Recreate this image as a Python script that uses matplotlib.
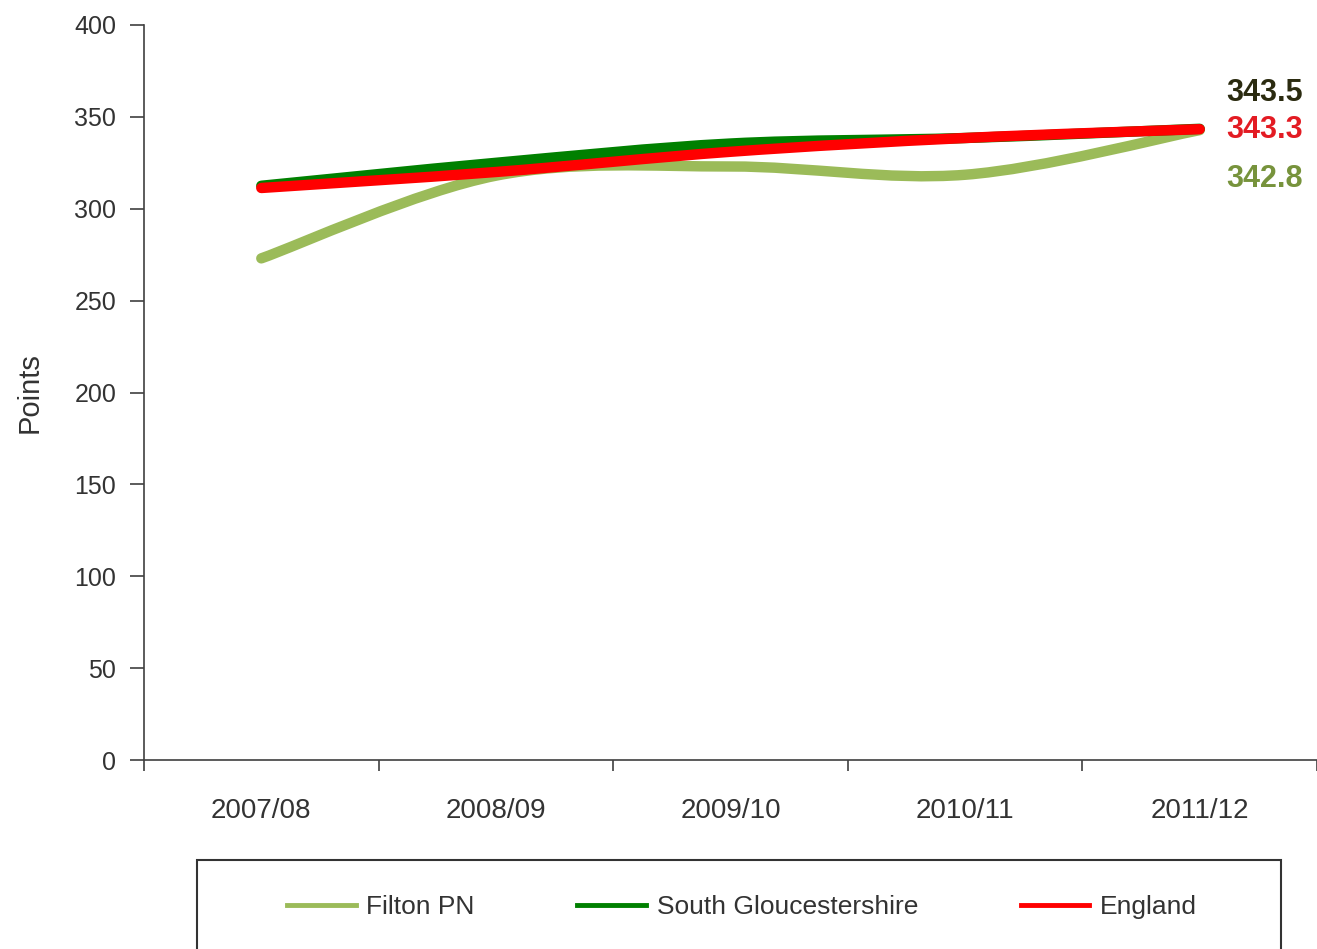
import matplotlib
matplotlib.use("Agg")
import matplotlib.pyplot as plt
from matplotlib.path import Path
from matplotlib.patches import PathPatch, Rectangle
from matplotlib.lines import Line2D
import numpy as np

years = ["2007/08", "2008/09", "2009/10", "2010/11", "2011/12"]
filton = [273.0, 318.0, 323.0, 318.5, 342.8]
south_glos = [312.5, 325.0, 335.5, 338.5, 343.5]
england = [311.3, 320.0, 331.0, 338.5, 343.3]

series_names = ["Filton PN", "South Gloucestershire", "England"]
series_colors = ["#9bbb59", "#008000", "#ff0000"]
label_colors = ["#77933c", "#2b2b10", "#e31b23"]
y_ticks = [0, 50, 100, 150, 200, 250, 300, 350, 400]

plt.rcParams['font.family'] = ['Liberation Sans', 'DejaVu Sans']

fig = plt.figure(figsize=(13.17, 9.49), dpi=100)
ax = fig.add_axes([144/1317, 1-760/949, 1 - 144/1317, (760-25)/949])


def smooth_path(xs, ys):
    pts = np.column_stack([xs, ys]).astype(float)
    n = len(pts)
    verts = [pts[0]]
    codes = [Path.MOVETO]
    for i in range(n - 1):
        p0 = pts[i - 1] if i > 0 else pts[i]
        p1 = pts[i]
        p2 = pts[i + 1]
        p3 = pts[i + 2] if i + 2 < n else pts[i + 1]
        c1 = p1 + (p2 - p0) / 6.0
        c2 = p2 - (p3 - p1) / 6.0
        verts += [c1, c2, p2]
        codes += [Path.CURVE4] * 3
    return Path(verts, codes)


xs = np.arange(len(years))
all_series = [filton, south_glos, england]
for k, (vals, col) in enumerate(zip(all_series, series_colors)):
    patch = PathPatch(smooth_path(xs, vals), fill=False, edgecolor=col,
                      linewidth=7.5, capstyle='round', joinstyle='round',
                      zorder=2 + k)
    ax.add_patch(patch)

ax.set_xlim(-0.5, len(years) - 0.5)
ax.set_ylim(0, 400)
for s in ["top", "right"]:
    ax.spines[s].set_visible(False)
for s in ["left", "bottom"]:
    ax.spines[s].set_color("#404040")
    ax.spines[s].set_linewidth(1.2)

ax.set_yticks(y_ticks)
ax.tick_params(axis='y', direction='out', length=10, width=1.2, color='#404040',
               labelsize=18, labelcolor='#333333', pad=10)
ax.set_xticks(np.arange(len(years) + 1) - 0.5)
ax.set_xticklabels([])
ax.tick_params(axis='x', which='major', direction='out', length=8, width=1.2, color='#404040')
ax.set_xticks(xs, minor=True)
ax.set_xticklabels(years, minor=True)
ax.tick_params(axis='x', which='minor', length=0, labelsize=20, labelcolor='#333333', pad=27)

ax.set_ylabel("Points", fontsize=21, color='#333333', labelpad=22)

offsets = [-49, 36, -1]
for vals, col, off in zip(all_series, label_colors, offsets):
    ax.annotate(f"{vals[-1]:.1f}", xy=(xs[-1], vals[-1]), xytext=(27, off),
                textcoords='offset pixels', ha='left', va='center',
                fontsize=22, fontweight='bold', color=col, annotation_clip=False)

# legend box
rect = Rectangle((197/1317, -0.05), (1281-197)/1317, 1-860/949 + 0.05,
                 transform=fig.transFigure, fill=False, edgecolor='#333333',
                 linewidth=1.5)
fig.patches.append(rect)
handles = [Line2D([], [], color=c, linewidth=3.5) for c in series_colors]
fig.legend(handles, series_names, ncol=3, loc='center',
           bbox_to_anchor=(742/1317, 1-907/949), frameon=False,
           fontsize=19, handlelength=2.6, handletextpad=0.4,
           columnspacing=3.9, labelcolor='#333333')

fig.savefig("out.png", dpi=100)
